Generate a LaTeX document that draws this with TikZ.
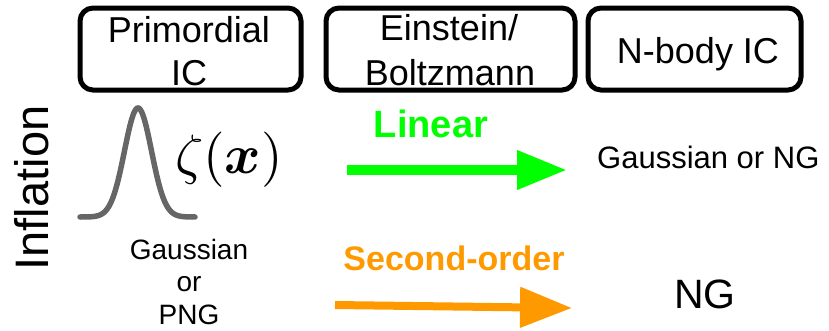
\documentclass[tikz,border=0pt]{standalone}
\usepackage{amsmath,bm}
\usepackage{fontspec}
\setmainfont{Liberation Sans}
\usetikzlibrary{arrows.meta}

\definecolor{lingreen}{RGB}{0,255,0}
\definecolor{secorange}{RGB}{255,153,0}
\definecolor{curvegray}{RGB}{102,102,102}

\newcommand{\fsz}[1]{\fontsize{#1bp}{1.2\dimexpr #1bp\relax}\selectfont}

\begin{document}
\begin{tikzpicture}[x=1bp,y=-1bp,
  stagebox/.style={draw=black,line width=5bp,rounded corners=13bp},
  boxlabel/.style={inner sep=0pt,align=center,font=\fsz{36}},
  plainlabel/.style={inner sep=0pt,align=center}]
\useasboundingbox (0,0) rectangle (829,330);

% stage boxes along the top
\draw[stagebox] (80,8) rectangle (301,90);
\draw[stagebox] (326,8) rectangle (575,90);
\draw[stagebox] (588,8) rectangle (801,90);

\node[boxlabel,anchor=base] (prim1) at (189,42) {Primordial};
\node[boxlabel,anchor=base] (prim2) at (189,85) {IC};
\node[boxlabel,anchor=base] (ein1) at (449,40) {Einstein/};
\node[boxlabel,anchor=base] (ein2) at (450,85) {Boltzmann};
\node[boxlabel,anchor=base] (nbody) at (698,63) {N-body IC};

% vertical title
\node[plainlabel,font=\fsz{47},rotate=90,anchor=base] (infl) at (48,188) {Inflation};

% primordial peak profile
\draw[curvegray,line width=5.5bp,line cap=round]
  plot[domain=80:195,samples=120,smooth]
  (\x,{217-109*exp(-((\x-138)^2)/(2*13.5*13.5))});
\node[plainlabel] (zeta) at (229,159.5) {\scalebox{5.55}{$\zeta(\boldsymbol{x})$}};

\node[plainlabel,font=\fsz{28},anchor=base] (g1) at (189,259) {Gaussian};
\node[plainlabel,font=\fsz{28},anchor=base] (g2) at (189,291) {or};
\node[plainlabel,font=\fsz{28},anchor=base] (g3) at (189,324) {PNG};

% linear route
\node[plainlabel,font=\fsz{38}\bfseries,text=lingreen,anchor=base] (lin) at (431,137) {Linear};
\coordinate (linA) at (347,170);
\coordinate (linB) at (567,170);
\draw[lingreen,line width=10bp,-{Triangle[length=50bp,width=37bp]}] (linA) -- (linB);
\node[plainlabel,font=\fsz{31},anchor=base west] (gng) at (597,168) {Gaussian or NG};

% second-order route
\node[plainlabel,font=\fsz{34}\bfseries,text=secorange,anchor=base] (sec) at (454,270) {Second-order};
\coordinate (secA) at (335,305);
\coordinate (secB) at (572,308);
\draw[secorange,line width=8bp,-{Triangle[length=52bp,width=39bp]}] (secA) -- (secB);
\node[plainlabel,font=\fsz{41},anchor=base] (ng) at (705,308) {NG};
\end{tikzpicture}
\end{document}
